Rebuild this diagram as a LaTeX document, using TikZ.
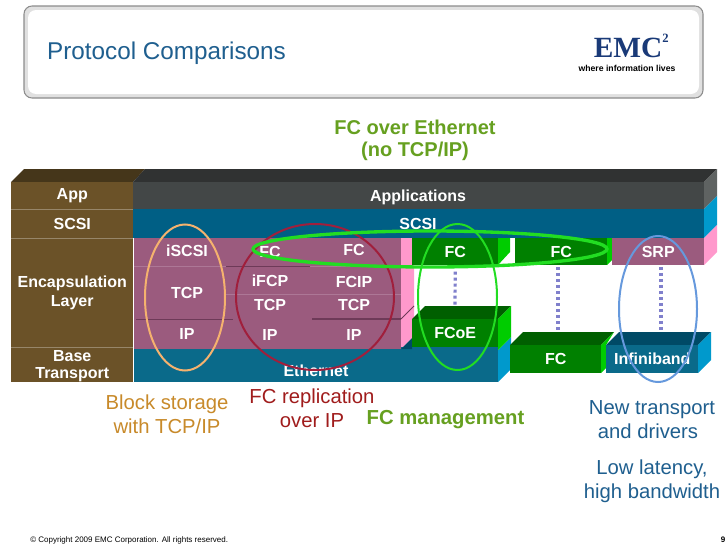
\documentclass[tikz,border=0pt]{standalone}
\usepackage{fontspec}
\setmainfont{Liberation Sans}
\newfontfamily\logofont{Liberation Serif}
\definecolor{brownface}{HTML}{6B5228}
\definecolor{browntop}{HTML}{45361A}
\definecolor{appface}{HTML}{434747}
\definecolor{apptop}{HTML}{303232}
\definecolor{appside}{HTML}{5F6362}
\definecolor{tealface}{HTML}{005F85}
\definecolor{etherface}{HTML}{0A6A8A}
\definecolor{tealtop}{HTML}{004A66}
\definecolor{tealside}{HTML}{0099CC}
\definecolor{mauveface}{HTML}{9B5B7E}
\definecolor{mauvedark}{HTML}{6E3A58}
\definecolor{mauvelight}{HTML}{AD7796}
\definecolor{pinkside}{HTML}{FF99CC}
\definecolor{greenface}{HTML}{008000}
\definecolor{greentop}{HTML}{005F00}
\definecolor{greenside}{HTML}{00CC00}
\definecolor{dotblue}{HTML}{8080CC}
\definecolor{olivetext}{HTML}{66A020}
\definecolor{titleblue}{HTML}{1F5F8F}
\definecolor{logoblue}{HTML}{1A3A78}
\definecolor{ringorange}{HTML}{F5B26E}
\definecolor{ringred}{HTML}{A01F3C}
\definecolor{ringgreen}{HTML}{22DD22}
\definecolor{ringblue}{HTML}{6699DD}
\definecolor{blocktext}{HTML}{C88A2A}
\definecolor{repltext}{HTML}{A01C1C}
\tikzset{
	lab/.style={text=white, inner sep=0pt, align=center, font=\bfseries\fontsize{12}{14}\selectfont},
	box/.style n args={3}{lab, fill=#1, minimum width=#2*0.75pt, minimum height=#3*0.75pt},
	talk/.style={inner sep=0pt, align=center, font=\fontsize{15.2}{18}\selectfont},
	dotline/.style={dotblue, line width=2.4pt, dash pattern=on 2.25pt off 2.25pt},
	ring/.style={line width=1.5pt}
}
\begin{document}
\begin{tikzpicture}[x=0.75pt, y=-0.75pt]
			%%%%% START %%%%%
			\useasboundingbox (0, 0) rectangle (728, 546);
			\fill[white] (0, 0) rectangle (728, 546);
			
			\draw[fill=black!12, draw=black!45, line width=0.8pt, rounded corners=6pt] (24, 6) rectangle (703, 98);
			\fill[white, rounded corners=6pt] (28, 10) rectangle (699, 94);
			\node[inner sep=0pt, text=titleblue, font=\fontsize{18.2}{20}\selectfont] (title) at (166.5, 53) {Protocol Comparisons};
			
			\node[inner sep=0pt, text=logoblue, font=\logofont\bfseries\fontsize{22}{24}\selectfont] (logo) at (628, 48) {EMC};
			\node[inner sep=0pt, text=logoblue, font=\logofont\bfseries\fontsize{9.5}{10}\selectfont] (logotwo) at (665.5, 38) {2};
			\node[inner sep=0pt, font=\bfseries\fontsize{6.5}{7}\selectfont] (logotext) at (627, 68) {where information lives};
			
			\node[talk, text=olivetext, font=\bfseries\fontsize{15}{16.5}\selectfont] (fcoetalk) at (415, 140) {FC over Ethernet\\(no TCP/IP)};
			
			% top faces
			\fill[browntop] (11, 182) -- (24, 169) -- (145, 169) -- (133, 182) -- cycle;
			\fill[apptop] (133, 182) -- (145, 169) -- (717, 169) -- (704, 182) -- cycle;
			
			% right faces
			\fill[appside] (704, 182) -- (717, 169) -- (717, 196) -- (704, 209) -- cycle;
			\fill[tealside] (704, 209) -- (717, 196) -- (717, 225) -- (704, 238) -- cycle;
			\fill[pinkside] (704, 238) -- (717, 225) -- (717, 252) -- (704, 265) -- cycle;
			\fill[pinkside] (401, 238) -- (414, 238) -- (414, 336) -- (401, 349) -- cycle;
			\draw[mauvedark, line width=0.6pt] (401, 319) -- (414, 306);
			
			% layer names
			\node[box={brownface}{122}{27}, anchor=north west] (applayer) at (11, 182) {App};
			\node[box={brownface}{122}{29}, anchor=north west] (scsilayer) at (11, 209) {SCSI};
			\node[box={brownface}{122}{109}, anchor=north west] (enclayer) at (11, 238) {Encapsulation\\Layer};
			\node[box={brownface}{122}{37}, anchor=north west, font=\bfseries\fontsize{12}{12.75}\selectfont] (baselayer) at (11, 347) {Base\\Transport};
			\fill[white] (11, 382) rectangle (134, 385);
			\draw[brownface!70!white, line width=0.4pt] (11, 209) -- (133, 209) (11, 238) -- (133, 238) (11, 347) -- (133, 347);
			
			% whole width layers
			\node[box={appface}{571}{27}, anchor=north west] (appbar) at (133, 182) {};
			\node[lab] (appname) at (418, 197.5) {Applications};
			\node[box={tealface}{571}{29}, anchor=north west] (scsibar) at (133, 209) {};
			\node[lab] (scsiname) at (418, 224) {SCSI};
			
			% encapsulation
			\fill[mauveface] (134, 238) rectangle (401, 349);
			\draw[mauvelight, line width=0.5pt] (134, 266) -- (226, 266) (310, 266) -- (401, 266) (226, 294) -- (401, 294);
			\draw[mauvedark, line width=0.7pt] (226, 266) -- (310, 266) (136, 319) -- (233, 319);
			\draw[mauvedark, line width=1.3pt] (312, 319) -- (401, 319);
			\node[lab] (iscsi) at (187, 251) {iSCSI};
			\node[lab] (tcpa) at (187, 293) {TCP};
			\node[lab] (ipa) at (187, 334) {IP};
			\node[lab] (fca) at (270, 252) {FC};
			\node[lab] (ifcp) at (270, 281) {iFCP};
			\node[lab] (tcpb) at (270, 305) {TCP};
			\node[lab] (ipb) at (270, 335) {IP};
			\node[lab] (fcb) at (354, 250) {FC};
			\node[lab] (fcip) at (354, 282) {FCIP};
			\node[lab] (tcpc) at (354, 305) {TCP};
			\node[lab] (ipc) at (354, 335) {IP};
			
			% ethernet and fcoe
			\fill[tealside] (498, 350) -- (511, 337) -- (511, 369) -- (498, 382) -- cycle;
			\node[box={etherface}{364}{35}, anchor=north west] (etherbar) at (134, 347) {};
			\node[lab] (ethername) at (316, 371) {Ethernet};
			\fill[mauveface] (134, 345) rectangle (401, 349);
			\fill[tealtop] (401, 349) -- (412, 338) -- (412, 349) -- cycle;
			\fill[greentop] (412, 319) -- (425, 306) -- (511, 306) -- (498, 319) -- cycle;
			\fill[greenside] (498, 319) -- (511, 306) -- (511, 337) -- (498, 350) -- cycle;
			\node[box={greenface}{86}{28}, anchor=north west] (fcoe) at (412, 319) {FCoE};
			
			% top row on the right
			\fill[greenside] (498, 238) -- (510, 238) -- (510, 252) -- (498, 265) -- cycle;
			\node[box={greenface}{86}{27}, anchor=north west] (fcnative) at (412, 238) {FC};
			\fill[greenside] (607, 238) -- (612, 238) -- (612, 260) -- (607, 265) -- cycle;
			\node[box={greenface}{92}{27}, anchor=north west] (fcover) at (515, 238) {FC};
			\node[box={mauveface}{92}{27}, anchor=north west] (srp) at (612, 238) {SRP};
			
			% lower boxes
			\fill[greentop] (510, 345) -- (523, 332) -- (614, 332) -- (601, 345) -- cycle;
			\fill[greenside] (601, 345) -- (614, 332) -- (606, 345) -- (606, 368) -- (601, 373) -- cycle;
			\node[box={greenface}{91}{28}, anchor=north west] (fclow) at (510, 345) {FC};
			\fill[tealtop] (606, 345) -- (619, 332) -- (711, 332) -- (698, 345) -- cycle;
			\fill[tealside] (698, 345) -- (711, 332) -- (711, 360) -- (698, 373) -- cycle;
			\node[box={etherface}{92}{28}, anchor=north west] (infini) at (606, 345) {Infiniband};
			
			% dotted links
			\coordinate (fcoeback) at (455, 306);
			\coordinate (fcback) at (558, 332);
			\coordinate (infiniback) at (661, 332);
			\draw[dotline, shorten <=4.5pt] (fcnative.south) -- (fcoeback);
			\draw[dotline, shorten <=1pt] (fcover.south -| fcback) -- (fcback);
			\draw[dotline, shorten <=1pt] (srp.south -| infiniback) -- (infiniback);
			
			% rings
			\draw[ring, color=ringorange] (185, 297.5) ellipse (40 and 73);
			\draw[ring, color=ringred] (315, 297) ellipse (79 and 73);
			\draw[ring, color=ringgreen, line width=2.5pt] (430, 249) ellipse (177 and 18);
			\draw[ring, color=ringgreen] (457.5, 297) ellipse (39.5 and 73);
			\draw[ring, color=ringblue] (658, 309) ellipse (39 and 73);
			
			% remarks
			\node[talk, text=blocktext] (blocktalk) at (167, 414) {Block storage\\with TCP/IP};
			\node[talk, text=repltext] (repltalk) at (312, 408) {FC replication\\over IP};
			\node[talk, text=olivetext, font=\bfseries\fontsize{15.2}{18}\selectfont] (mgmttalk) at (445.5, 420) {FC management};
			\node[talk, text=titleblue] (newtalk) at (652, 420) {New transport\\and drivers\hspace*{6pt}};
			\node[talk, text=titleblue] (lowtalk) at (652, 481) {Low latency,\\high bandwidth};
			
			\node[inner sep=0pt, anchor=west, font=\fontsize{6}{7}\selectfont] (copyright) at (30, 540) {© Copyright 2009 EMC Corporation. All rights reserved.};
			\node[inner sep=0pt, font=\bfseries\fontsize{6}{7}\selectfont] (pagenum) at (723, 540) {9};
			%%%%% END %%%%%
		\end{tikzpicture}
\end{document}
